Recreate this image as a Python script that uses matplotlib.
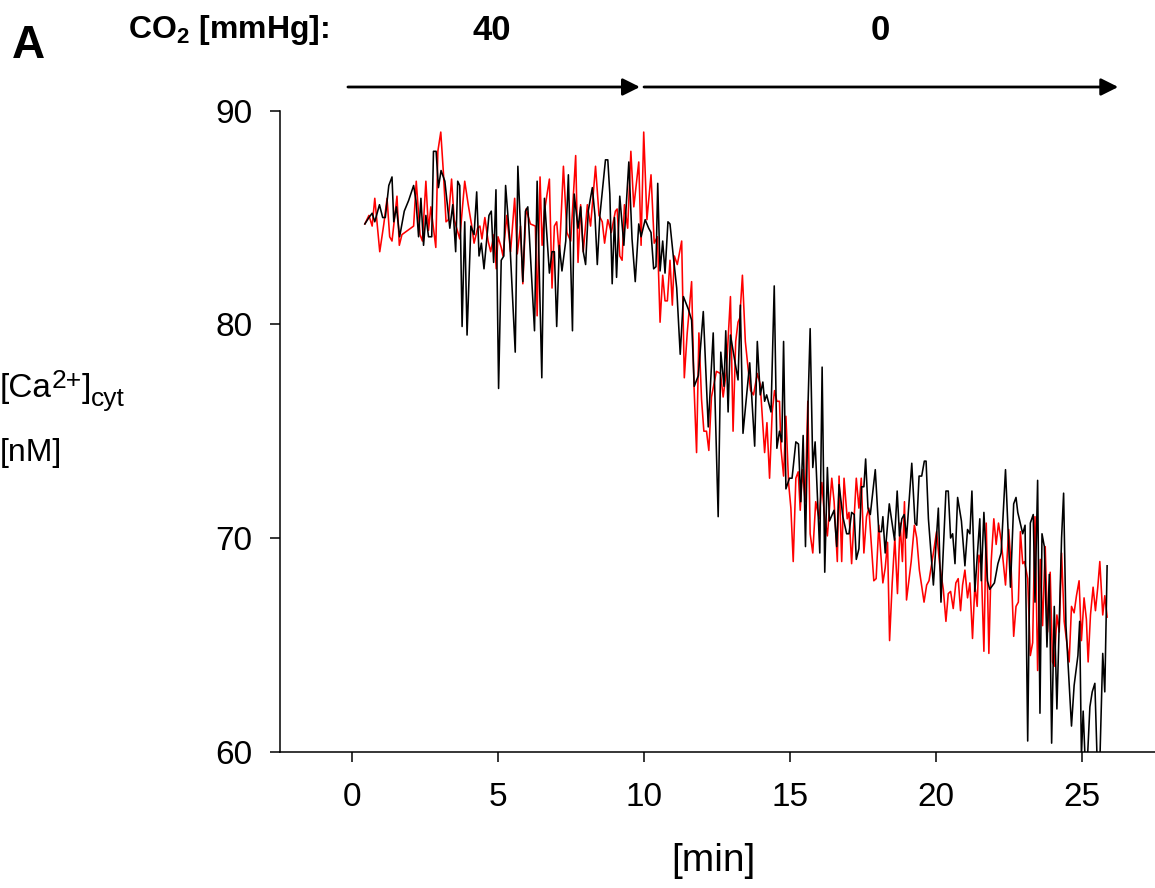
import matplotlib
matplotlib.use("Agg")
import matplotlib.pyplot as plt

plt.rcParams['font.family'] = ['Liberation Sans', 'DejaVu Sans']
plt.rcParams['mathtext.fontset'] = 'custom'
plt.rcParams['mathtext.rm'] = 'Liberation Sans'
plt.rcParams['mathtext.bf'] = 'Liberation Sans:bold'
plt.rcParams['mathtext.default'] = 'regular'

# ---- data ----
black_t = [0.43, 0.57, 0.68, 0.77, 0.93, 1.04, 1.13, 1.25, 1.36, 1.42, 1.51, 1.62, 1.78, 1.93,
           2.10, 2.18, 2.27, 2.35, 2.44, 2.52, 2.61, 2.72, 2.78, 2.87, 2.95, 3.04, 3.17, 3.34,
           3.44, 3.54, 3.61, 3.68, 3.76, 3.85, 3.93, 4.06, 4.17, 4.26, 4.34, 4.42, 4.51, 4.59,
           4.68, 4.76, 4.84, 4.92, 5.01, 5.10, 5.19, 5.25, 5.39, 5.58, 5.67, 5.84, 5.93, 6.01,
           6.24, 6.33, 6.49, 6.58, 6.75, 6.84, 6.92, 7.00, 7.09, 7.18, 7.31, 7.40, 7.54, 7.60,
           7.73, 7.82, 7.91, 7.99, 8.08, 8.22, 8.31, 8.39, 8.48, 8.67, 8.75, 8.82, 8.90, 8.98,
           9.05, 9.16, 9.30, 9.47, 9.58, 9.69, 9.81, 9.89, 10.03, 10.15, 10.23, 10.32, 10.40,
           10.46, 10.54, 10.63, 10.71, 10.81, 10.88, 11.00, 11.11, 11.23, 11.34, 11.51, 11.62,
           11.71, 11.85, 12.02, 12.19, 12.36, 12.53, 12.62, 12.73, 12.79, 12.87, 12.95, 13.10,
           13.21, 13.29, 13.38, 13.61, 13.78, 13.87, 13.97, 14.06, 14.12, 14.19, 14.34, 14.45,
           14.54, 14.63, 14.71, 14.77, 14.85, 14.97, 15.06, 15.19, 15.28, 15.36, 15.44, 15.52,
           15.61, 15.68, 15.77, 15.85, 16.01, 16.09, 16.18, 16.27, 16.34, 16.50, 16.59, 16.67,
           16.80, 16.93, 17.01, 17.10, 17.19, 17.26, 17.35, 17.44, 17.52, 17.58, 17.66, 17.74,
           17.91, 18.03, 18.12, 18.17, 18.25, 18.39, 18.57, 18.66, 18.74, 18.82, 18.90, 18.98,
           19.16, 19.27, 19.33, 19.41, 19.50, 19.59, 19.65, 19.73, 19.90, 20.07, 20.16, 20.33,
           20.41, 20.49, 20.56, 20.64, 20.73, 20.86, 20.98, 21.07, 21.15, 21.22, 21.32, 21.49,
           21.54, 21.63, 21.75, 21.83, 21.99, 22.11, 22.22, 22.37, 22.54, 22.65, 22.73, 22.79,
           22.96, 23.04, 23.13, 23.22, 23.32, 23.38, 23.47, 23.55, 23.62, 23.70, 23.79, 23.87,
           23.95, 24.04, 24.13, 24.24, 24.29, 24.36, 24.44, 24.63, 24.72, 24.85, 24.91, 24.97,
           25.03, 25.10, 25.17, 25.26, 25.34, 25.43, 25.51, 25.60, 25.70, 25.77, 25.85]
black_ca = [84.7, 85.0, 85.2, 84.8, 85.6, 85.0, 85.0, 86.5, 86.9, 84.8, 85.5, 84.1, 85.3, 85.8,
            86.5, 85.8, 84.1, 85.9, 83.7, 85.1, 84.1, 84.1, 88.1, 88.1, 86.4, 87.2, 86.7, 84.5,
            85.6, 83.4, 86.7, 86.5, 79.9, 84.8, 79.5, 84.6, 84.2, 86.2, 83.2, 83.8, 82.6, 83.8,
            85.1, 85.3, 82.9, 86.3, 77.0, 83.0, 83.2, 86.5, 84.0, 78.7, 87.4, 82.0, 85.3, 85.5,
            79.7, 86.7, 77.5, 85.9, 82.4, 83.4, 83.4, 79.9, 83.7, 82.5, 83.9, 87.0, 79.7, 86.1,
            84.5, 85.5, 83.4, 82.8, 85.3, 86.4, 85.1, 82.8, 85.1, 87.7, 87.7, 86.1, 81.9, 85.0,
            82.2, 86.0, 83.7, 87.6, 84.0, 82.0, 84.7, 84.1, 84.9, 84.5, 84.3, 82.6, 82.7,
            86.6, 82.5, 83.9, 82.4, 84.8, 84.7, 83.1, 81.7, 78.6, 81.3, 80.7, 80.2,
            77.1, 77.6, 80.6, 75.2, 79.6, 71.0, 78.7, 77.1, 79.7, 75.9, 79.5, 78.3,
            77.4, 80.9, 74.9, 78.2, 74.3, 79.2, 76.7, 77.3, 76.4, 76.7, 75.9, 81.8,
            74.2, 75.0, 74.5, 79.2, 72.3, 72.8, 72.8, 74.5, 74.4, 71.7, 74.8, 69.6,
            76.4, 79.8, 73.3, 74.5, 69.3, 78.0, 68.4, 73.3, 70.8, 71.3, 69.6, 72.5,
            71.0, 70.2, 70.2, 71.2, 71.1, 69.0, 69.5, 72.4, 72.4, 73.7, 71.4, 71.1,
            73.2, 70.3, 70.3, 71.0, 69.3, 71.6, 69.9, 72.2, 70.1, 70.9, 71.1, 70.0,
            73.5, 70.7, 70.6, 72.9, 72.9, 73.6, 73.6, 70.9, 67.8, 71.4, 67.0, 72.2,
            72.2, 70.0, 70.2, 68.8, 71.9, 70.8, 68.7, 70.4, 70.2, 72.2, 67.5, 70.9,
            68.0, 71.2, 68.0, 67.6, 67.9, 68.8, 69.3, 73.2, 67.7, 71.6, 71.9, 71.2,
            70.2, 70.6, 60.5, 70.7, 71.1, 67.0, 72.7, 61.8, 70.2, 69.6, 64.9, 68.3,
            60.4, 66.8, 62.0, 67.5, 70.0, 72.1, 65.9, 61.2, 63.1, 64.5, 66.1, 59.8,
            61.9, 59.5, 59.5, 62.1, 62.8, 63.2, 59.5, 59.5, 64.6, 62.8, 68.7]

red_t = [0.43, 0.57, 0.68, 0.77, 0.94, 1.08, 1.19, 1.28, 1.36, 1.53, 1.61, 1.70, 2.10, 2.19,
         2.32, 2.40, 2.52, 2.61, 2.69, 2.86, 2.93, 3.03, 3.12, 3.21, 3.29, 3.40, 3.49, 3.68,
         3.85, 3.97, 4.08, 4.17, 4.29, 4.37, 4.44, 4.54, 4.65, 4.74, 4.85, 4.93, 4.99, 5.10,
         5.16, 5.29, 5.42, 5.56, 5.65, 5.76, 5.84, 5.95, 6.10, 6.27, 6.33, 6.43, 6.50, 6.58,
         6.75, 6.84, 6.92, 7.00, 7.09, 7.23, 7.35, 7.48, 7.65, 7.73, 7.82, 7.91, 8.05, 8.16,
         8.33, 8.45, 8.56, 8.64, 8.75, 8.87, 9.01, 9.07, 9.16, 9.24, 9.32, 9.43, 9.54, 9.64,
         9.81, 9.89, 9.98, 10.09, 10.23, 10.34, 10.45, 10.54, 10.63, 10.71, 10.79, 10.88,
         10.96, 11.03, 11.13, 11.28, 11.37, 11.47, 11.62, 11.70, 11.79, 11.87, 11.96, 12.04,
         12.13, 12.21, 12.30, 12.47, 12.61, 12.70, 12.81, 12.95, 13.04, 13.13, 13.21, 13.27,
         13.36, 13.46, 13.55, 13.64, 13.74, 13.87, 13.97, 14.12, 14.20, 14.29, 14.38, 14.46,
         14.54, 14.63, 14.68, 14.77, 14.85, 14.94, 15.02, 15.10, 15.19, 15.27, 15.34, 15.42,
         15.51, 15.60, 15.68, 15.77, 15.87, 15.99, 16.08, 16.16, 16.27, 16.42, 16.50, 16.61,
         16.67, 16.76, 16.84, 16.95, 17.01, 17.10, 17.26, 17.35, 17.43, 17.52, 17.61, 17.69,
         17.86, 17.94, 18.03, 18.17, 18.25, 18.33, 18.40, 18.49, 18.58, 18.67, 18.76, 18.84,
         18.91, 18.98, 19.14, 19.25, 19.33, 19.42, 19.58, 19.67, 19.75, 19.90, 20.01, 20.12,
         20.24, 20.33, 20.41, 20.49, 20.58, 20.67, 20.75, 20.83, 20.90, 20.98, 21.07, 21.15,
         21.24, 21.32, 21.40, 21.46, 21.54, 21.63, 21.71, 21.80, 21.88, 21.97, 22.05, 22.13,
         22.22, 22.37, 22.48, 22.56, 22.65, 22.73, 22.81, 22.88, 22.96, 23.02, 23.13, 23.22,
         23.30, 23.38, 23.47, 23.56, 23.64, 23.73, 23.81, 23.90, 23.98, 24.04, 24.13, 24.21,
         24.29, 24.38, 24.47, 24.55, 24.63, 24.72, 24.80, 24.89, 24.97, 25.06, 25.14, 25.20,
         25.28, 25.37, 25.45, 25.53, 25.60, 25.70, 25.77, 25.85]
red_ca = [84.7, 85.1, 84.6, 85.9, 83.4, 84.7, 85.9, 84.1, 83.9, 86.0, 83.7, 84.2, 84.6, 86.7,
          84.2, 83.9, 86.7, 84.4, 85.5, 83.6, 88.1, 89.0, 87.1, 84.8, 84.9, 86.8, 84.9, 84.0,
          86.7, 85.6, 84.7, 83.8, 84.5, 84.6, 84.0, 85.0, 83.9, 83.4, 84.2, 82.6, 84.1, 83.6,
          83.2, 85.1, 83.4, 85.9, 83.3, 84.6, 81.9, 85.4, 84.7, 84.6, 80.4, 86.9, 83.7, 85.3,
          86.8, 81.7, 84.6, 84.8, 83.2, 87.4, 84.3, 83.9, 87.9, 82.9, 85.6, 83.4, 85.6, 84.6,
          87.4, 85.1, 84.8, 83.8, 84.9, 84.3, 85.3, 85.4, 83.2, 83.0, 85.6, 84.5, 88.1, 85.5,
          87.6, 83.7, 89.0, 84.9, 87.0, 83.8, 84.1, 80.1, 82.3, 81.1, 81.1, 83.0,
          80.9, 83.2, 82.8, 83.9, 77.5, 79.6, 82.0, 77.2, 74.0, 79.6, 76.5, 75.0,
          75.0, 74.1, 76.6, 77.8, 77.7, 76.6, 77.8, 81.3, 75.0, 79.2, 80.1, 80.3,
          82.3, 79.2, 78.0, 76.9, 76.7, 77.7, 77.2, 74.0, 75.4, 72.8, 75.9, 76.9,
          76.4, 76.4, 74.2, 72.9, 75.7, 72.6, 71.4, 68.9, 72.8, 73.1, 71.3, 73.2,
          71.7, 76.4, 70.2, 69.3, 71.7, 70.9, 72.6, 71.2, 70.1, 72.8, 71.7, 68.9,
          72.9, 68.9, 72.8, 70.9, 71.2, 68.8, 72.8, 71.4, 72.8, 69.3, 71.0, 71.4,
          68.0, 68.1, 70.6, 67.9, 68.6, 69.8, 65.2, 67.9, 70.0, 67.4, 70.7, 68.9,
          71.7, 67.1, 68.9, 70.6, 70.0, 68.5, 67.0, 67.8, 68.0, 69.3, 70.3, 68.7,
          67.6, 66.1, 67.4, 67.5, 66.7, 67.9, 68.1, 66.6, 67.8, 68.5, 67.2, 67.9,
          65.3, 67.8, 66.8, 69.2, 68.7, 64.7, 70.7, 64.6, 68.9, 70.9, 69.7, 70.7,
          69.9, 67.8, 70.4, 68.7, 65.4, 66.8, 67.0, 70.3, 68.8, 68.9, 68.1, 64.5,
          65.1, 71.0, 63.8, 69.0, 65.9, 69.6, 65.6, 68.4, 64.2, 64.0, 66.4, 65.6,
          69.3, 66.1, 65.1, 64.2, 66.8, 66.5, 67.3, 68.0, 65.2, 67.2, 66.2, 64.2,
          66.4, 67.7, 66.6, 67.7, 68.9, 66.4, 67.3, 66.3]

x_ticks = [0, 5, 10, 15, 20, 25]
y_ticks = [60, 70, 80, 90]
phase_labels = ["40", "0"]
phase_start = [-0.15, 9.99]
phase_end = [9.85, 26.23]

# ---- figure ----
W, H = 1155, 888
fig = plt.figure(figsize=(W / 100, H / 100), dpi=100)
ax = fig.add_axes([280 / W, 1 - 751.7 / H, 1 - 280 / W, (751.7 - 110.7) / H])

ax.plot(red_t, red_ca, color='#ff0000', lw=1.15, zorder=2)
ax.plot(black_t, black_ca, color='black', lw=1.15, zorder=3)

ax.set_xlim((280 - 352.3) / 29.2, (1155 - 352.3) / 29.2)
ax.set_ylim(60, 90)
ax.set_xticks(x_ticks)
ax.set_yticks(y_ticks)
ax.tick_params(direction='out', length=7, width=1.1, labelsize=24, colors='black')
ax.tick_params(axis='x', pad=15)
ax.tick_params(axis='y', pad=13)
for s in ['top', 'right']:
    ax.spines[s].set_visible(False)
for s in ['left', 'bottom']:
    ax.spines[s].set_linewidth(1.1)

# axis labels
fig.text(713 / W, 1 - 871 / H, "[min]", fontsize=28, ha='center', va='baseline')

renderer = fig.canvas.get_renderer()
x_px = 0.0
pieces = [("[Ca", 24, 397), ("2+", 19, 388), ("]", 24, 397), ("cyt", 19, 406)]
for txt, fs, base in pieces:
    t = fig.text(x_px / W, 1 - base / H, txt, fontsize=fs, ha='left', va='baseline')
    x_px += t.get_window_extent(renderer=renderer).width
fig.text(0 / W, 1 - 461 / H, "[nM]", fontsize=23, ha='left', va='baseline')

# header
fig.text(28 / W, 1 - 46 / H, "A", fontsize=33, fontweight='bold', ha='center', va='center')
fig.text(228 / W, 1 - 30 / H, r"CO$_2$ [mmHg]:", fontsize=23, fontweight='bold',
         ha='center', va='center')
trans = ax.get_xaxis_transform()
arrow_y = (751.7 - 87) / (751.7 - 110.7)
for x0, x1 in zip(phase_start, phase_end):
    ax.annotate('', xy=(x1, arrow_y), xytext=(x0, arrow_y), xycoords=trans,
                textcoords=trans, annotation_clip=False,
                arrowprops=dict(arrowstyle='-|>', color='black', lw=2.0,
                                mutation_scale=26, shrinkA=0, shrinkB=0))
fig.text(492 / W, 1 - 30 / H, phase_labels[0], fontsize=25, fontweight='bold',
         ha='center', va='center')
fig.text(880 / W, 1 - 30 / H, phase_labels[1], fontsize=25, fontweight='bold',
         ha='center', va='center')

fig.savefig("out.png", dpi=100)
